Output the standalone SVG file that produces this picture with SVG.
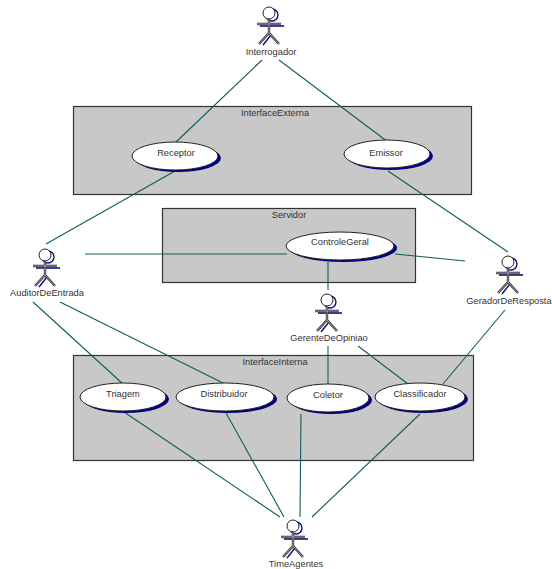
<svg xmlns="http://www.w3.org/2000/svg" xmlns:xlink="http://www.w3.org/1999/xlink" width="552" height="569" viewBox="0 0 552 569">
<style>
text{font-family:"Liberation Sans",Arial,sans-serif;font-size:9.3px;fill:#333;text-anchor:middle}
.box{fill:#c8c8c8;stroke:#333;stroke-width:1.2}
.sh{fill:#000080}
.uc{fill:#fff;stroke:#222;stroke-width:1}
#connectors line{stroke:#125c5c;stroke-width:1.1}
.as{fill:none;stroke:#000080;stroke-width:1.3}
.ah{fill:#fff;stroke:#222;stroke-width:1}
.al{fill:none;stroke:#333;stroke-width:2.4}
.ai{fill:none;stroke:#ccc;stroke-width:.7}
</style>
<defs>
<g id="actor">
<circle class="as" cx="3" cy="2" r="6"/>
<path class="as" d="M-9 13H15M-6 32L2 22"/>
<path class="al" d="M-12 11H12M0 6V20M0 20L-10 31M0 20L10 31"/>
<path class="ai" d="M-12 11H12M0 6V20M0 20L-10 31M0 20L10 31"/>
<circle class="ah" cx="0" cy="0" r="6"/>
</g>
</defs>
<rect width="552" height="569" fill="#fff"/>
<g id="InterfaceExterna"><rect class="box" x="73.5" y="106.5" width="398" height="88"/><text x="275" y="116">InterfaceExterna</text></g>
<g id="Servidor"><rect class="box" x="162.5" y="208.5" width="253" height="74"/><text x="289" y="218">Servidor</text></g>
<g id="InterfaceInterna"><rect class="box" x="73.5" y="355.5" width="400" height="105"/><text x="275" y="365">InterfaceInterna</text></g>
<g id="connectors">
<line x1="262" y1="60" x2="176" y2="142"/>
<line x1="279" y1="60" x2="388" y2="142"/>
<line x1="175" y1="171" x2="46" y2="244"/>
<line x1="388" y1="171" x2="508" y2="252"/>
<line x1="85" y1="254" x2="287" y2="254"/>
<line x1="395" y1="254" x2="465" y2="261"/>
<line x1="328" y1="262" x2="328" y2="290"/>
<line x1="328" y1="346" x2="328" y2="384"/>
<line x1="358" y1="346" x2="408" y2="384"/>
<line x1="505" y1="310" x2="443" y2="384"/>
<line x1="33" y1="302" x2="123" y2="384"/>
<line x1="60" y1="302" x2="225" y2="384"/>
<line x1="124" y1="412" x2="280" y2="517"/>
<line x1="226" y1="413" x2="284" y2="517"/>
<line x1="301" y1="414" x2="300" y2="517"/>
<line x1="420" y1="414" x2="312" y2="517"/>
</g>
<g id="Receptor"><ellipse class="sh" cx="178" cy="158" rx="43" ry="14"/><ellipse class="uc" cx="175" cy="156" rx="43" ry="14"/><text x="176" y="156">Receptor</text></g>
<g id="Emissor"><ellipse class="sh" cx="390" cy="156" rx="43" ry="14"/><ellipse class="uc" cx="387" cy="154" rx="43" ry="14"/><text x="386" y="156">Emissor</text></g>
<g id="ControleGeral"><ellipse class="sh" cx="343" cy="248" rx="54" ry="14"/><ellipse class="uc" cx="340" cy="246" rx="54" ry="14"/><text x="340" y="245">ControleGeral</text></g>
<g id="Triagem"><ellipse class="sh" cx="126" cy="399" rx="43" ry="14"/><ellipse class="uc" cx="123" cy="397" rx="43" ry="14"/><text x="123" y="397">Triagem</text></g>
<g id="Distribuidor"><ellipse class="sh" cx="228" cy="399" rx="49" ry="14"/><ellipse class="uc" cx="225" cy="397" rx="49" ry="14"/><text x="224" y="397">Distribuidor</text></g>
<g id="Coletor"><ellipse class="sh" cx="331" cy="400" rx="41" ry="14"/><ellipse class="uc" cx="328" cy="398" rx="41" ry="14"/><text x="328" y="398">Coletor</text></g>
<g id="Classificador"><ellipse class="sh" cx="423" cy="399" rx="45" ry="14"/><ellipse class="uc" cx="420" cy="397" rx="45" ry="14"/><text x="420" y="397">Classificador</text></g>
<g id="Interrogador"><use xlink:href="#actor" href="#actor" x="269" y="13"/><text x="271" y="55">Interrogador</text></g>
<g id="AuditorDeEntrada"><use xlink:href="#actor" href="#actor" x="45" y="255"/><text x="47" y="296">AuditorDeEntrada</text></g>
<g id="GerenteDeOpiniao"><use xlink:href="#actor" href="#actor" x="327" y="300"/><text x="329" y="341">GerenteDeOpiniao</text></g>
<g id="GeradorDeResposta"><use xlink:href="#actor" href="#actor" x="508" y="262"/><text x="509" y="304">GeradorDeResposta</text></g>
<g id="TimeAgentes"><use xlink:href="#actor" href="#actor" x="293" y="526"/><text x="296" y="567">TimeAgentes</text></g>
</svg>
